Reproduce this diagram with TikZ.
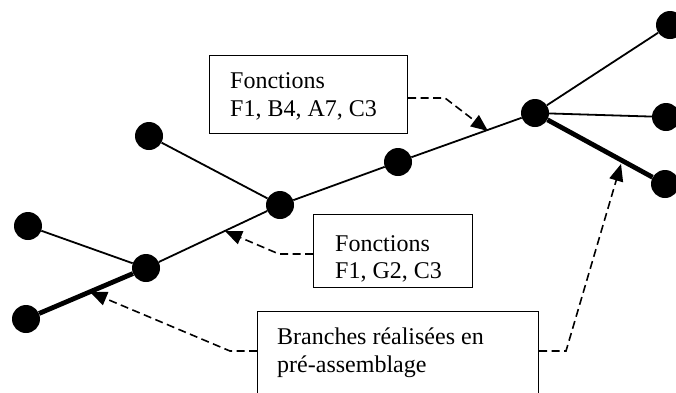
\documentclass[tikz,border=0pt]{standalone}
\usepackage{fontspec}
\setmainfont{Liberation Serif}
\usetikzlibrary{arrows.meta}
\begin{document}
\begin{tikzpicture}[x=1pt,y=-1pt,
  dot/.style={circle,fill=black,inner sep=0pt,minimum size=28pt},
  thinedge/.style={line width=1.8pt},
  thickedge/.style={line width=4.8pt},
  callout/.style={draw,line width=1.2pt,rectangle,anchor=north west,inner sep=0pt},
  txt/.style={anchor=north west,inner sep=0pt,align=left,font=\fontsize{24}{27.6}\selectfont},
  pointer/.style={line width=1.6pt,dash pattern=on 8pt off 4.5pt,-{Triangle[length=17pt,width=14pt]}}]
\useasboundingbox (0,0) rectangle (676,392);
% dots
\node[dot] (A) at (26,319) {};
\node[dot] (B) at (28,226) {};
\node[dot] (C) at (146,268) {};
\node[dot] (D) at (149,136) {};
\node[dot] (E) at (280,205) {};
\node[dot] (F) at (398,162) {};
\node[dot] (G) at (535,113) {};
\node[dot] (H) at (670,25) {};
\node[dot] (I) at (666,117) {};
\node[dot] (J) at (665,184) {};
% branches
\draw[thickedge] (A) -- (C);
\draw[thinedge] (B) -- (C);
\draw[thinedge] (C) -- (E);
\draw[thinedge] (D) -- (E);
\draw[thinedge] (E) -- (F);
\draw[thinedge] (F) -- (G);
\draw[thinedge] (G) -- (H);
\draw[thinedge] (G) -- (I);
\draw[thickedge] (G) -- (J);
% boxes
\node[callout,minimum width=198pt,minimum height=78pt] (box1) at (209,55) {};
\node[txt] (txt1) at ([shift={(21,17.5)}]box1.north west) {Fonctions\\F1, B4, A7, C3};
\node[callout,minimum width=159pt,minimum height=73pt] (box2) at (313,214) {};
\node[txt] (txt2) at ([shift={(22,21)}]box2.north west) {Fonctions\\F1, G2, C3};
\node[callout,minimum width=281pt,minimum height=120pt] (box3) at (257,311) {};
\node[txt] (txt3) at ([shift={(20,17)}]box3.north west) {Branches réalisées en\\pré-assemblage};
% pointer geometry
\coordinate (k1) at (445,98);
\coordinate (t1) at (488,131);
\coordinate (k2) at (279,254);
\coordinate (t2) at (225,231);
\coordinate (k3) at (230,351);
\coordinate (t3) at (90,292);
\coordinate (k4) at (566,351);
\coordinate (t4) at (621,164);
\draw[pointer] (box1.east |- k1) -- (k1) -- (t1);
\draw[pointer] (box2.west |- k2) -- (k2) -- (t2);
\draw[pointer] (box3.west |- k3) -- (k3) -- (t3);
\draw[pointer] (box3.east |- k4) -- (k4) -- (t4);
\end{tikzpicture}
\end{document}
